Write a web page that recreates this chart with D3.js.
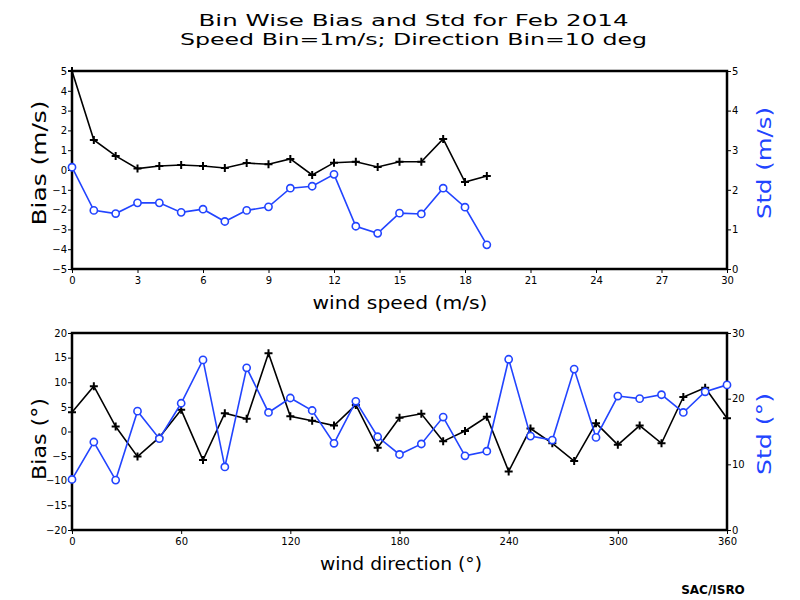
<!DOCTYPE html>
<html><head><meta charset="utf-8">
<script src="https://cdn.jsdelivr.net/npm/d3@7"></script>
<style>body{margin:0;background:#fff}svg{display:block}</style>
</head><body>
<script>
// ---- data ----
const speedBins = [0,1,2,3,4,5,6,7,8,9,10,11,12,13,14,15,16,17,18,19];
const speedBias = [5.0,1.52,0.71,0.07,0.2,0.25,0.2,0.1,0.35,0.29,0.56,-0.25,0.37,0.42,0.15,0.42,0.42,1.57,-0.61,-0.3];
const speedStd  = [2.57,1.48,1.4,1.67,1.67,1.43,1.51,1.2,1.48,1.57,2.04,2.09,2.39,1.08,0.9,1.41,1.39,2.04,1.56,0.61];
const dirBins = [0,12,24,36,48,60,72,84,96,108,120,132,144,156,168,180,192,204,216,228,240,252,264,276,288,300,312,324,336,348,360];
const dirBias = [3.9,9.2,1.0,-5.1,-1.2,4.4,-5.8,3.7,2.6,15.9,3.1,2.2,1.2,5.4,-3.3,2.8,3.6,-2.0,0.1,3.0,-8.1,0.6,-2.4,-6.0,1.7,-2.7,1.2,-2.4,7.0,8.9,2.7];
const dirStd  = [7.7,13.4,7.6,18.1,13.9,19.3,25.9,9.6,24.7,17.9,20.1,18.2,13.2,19.6,14.2,11.5,13.1,17.2,11.3,12.0,26.0,14.3,13.7,24.5,14.1,20.4,20.0,20.6,17.9,21.05,22.1];
const speedTicks = [0,3,6,9,12,15,18,21,24,27,30];
const speedBiasTicks = [-5,-4,-3,-2,-1,0,1,2,3,4,5];
const speedStdTicks = [0,1,2,3,4,5];
const dirTicks = [0,60,120,180,240,300,360];
const dirBiasTicks = [-20,-15,-10,-5,0,5,10,15,20];
const dirStdTicks = [0,10,20,30];

const BLUE = "#2244ff";
const W = 800, H = 600;
const svg = d3.select("body").append("svg").attr("width", W).attr("height", H);
const FONT = "DejaVu Sans, sans-serif";

function label(x, y, txt, size, len, rot, color) {
  const t = svg.append("text")
    .attr("transform", `translate(${x},${y})` + (rot ? " rotate(-90)" : ""))
    .attr("text-anchor","middle").attr("font-family", FONT).attr("font-size", size)
    .attr("fill", color || "#000").text(txt);
  if (len) t.attr("textLength", len).attr("lengthAdjust", "spacingAndGlyphs");
  return t;
}

label(413.5, 26, "Bin Wise Bias and Std for Feb 2014", 16, 430);
label(413.5, 45, "Speed Bin=1m/s; Direction Bin=10 deg", 16, 467);

function panel(cfg) {
  const x = d3.scaleLinear().domain(cfg.xd).range([72, 727]);
  const yl = d3.scaleLinear().domain(cfg.yld).range([cfg.y1, cfg.y0]);
  const yr = d3.scaleLinear().domain(cfg.yrd).range([cfg.y1, cfg.y0]);
  const g = svg.append("g");
  const fmt = d => String(d).replace("-", "\u2212");
  const ax = g.append("g").attr("transform", `translate(0,${cfg.y1})`)
    .call(d3.axisBottom(x).tickValues(cfg.xt).tickSize(4).tickPadding(4).tickFormat(fmt));
  const al = g.append("g").attr("transform", `translate(72,0)`)
    .call(d3.axisLeft(yl).tickValues(cfg.ylt).tickSize(4).tickPadding(1).tickFormat(fmt));
  const ar = g.append("g").attr("transform", `translate(727,0)`)
    .call(d3.axisRight(yr).tickValues(cfg.yrt).tickSize(4).tickPadding(1).tickFormat(fmt));
  [ax, al, ar].forEach(a => {
    a.select(".domain").remove();
    a.selectAll("text").attr("font-family", FONT).attr("font-size", 10).attr("fill","#000");
    a.selectAll("line").attr("stroke","#000").attr("stroke-width",1);
  });
  g.append("rect").attr("x", 72).attr("y", cfg.y0).attr("width", 655).attr("height", cfg.y1 - cfg.y0)
    .attr("fill","none").attr("stroke","#000").attr("stroke-width",2.5);
  const lineB = d3.line().x((d,i)=>x(cfg.bins[i])).y(d=>yl(d));
  const lineS = d3.line().x((d,i)=>x(cfg.bins[i])).y(d=>yr(d));
  g.append("path").datum(cfg.bias).attr("d", lineB).attr("fill","none").attr("stroke","#000").attr("stroke-width",1.6);
  g.selectAll(".cross").data(cfg.bias).enter().append("path")
    .attr("d", (d,i)=>{const cx=x(cfg.bins[i]), cy=yl(d); return `M${cx-4},${cy}H${cx+4}M${cx},${cy-4}V${cy+4}`;})
    .attr("stroke","#000").attr("stroke-width",2).attr("fill","none");
  g.append("path").datum(cfg.std).attr("d", lineS).attr("fill","none").attr("stroke",BLUE).attr("stroke-width",1.6);
  g.selectAll(".circ").data(cfg.std).enter().append("circle")
    .attr("cx",(d,i)=>x(cfg.bins[i])).attr("cy",d=>yr(d)).attr("r",3.6)
    .attr("fill","#fff").attr("stroke",BLUE).attr("stroke-width",1.6);
  label(46, cfg.lcy, cfg.ylab, 19, cfg.llen, true);
  label(771, cfg.rcy, cfg.yrlab, 19, cfg.rlen, true, BLUE);
  label(cfg.xcx, cfg.y1 + 40, cfg.xlab, 18, cfg.xlen);
}

panel({xd:[0,30], yld:[-5,5], yrd:[0,5], y0:71, y1:269, xt:speedTicks, ylt:speedBiasTicks, yrt:speedStdTicks,
  bins:speedBins, bias:speedBias, std:speedStd, ylab:"Bias (m/s)", yrlab:"Std (m/s)", xlab:"wind speed (m/s)",
  lcy:163, llen:125, rcy:163, rlen:112, xcx:400, xlen:175});
panel({xd:[0,360], yld:[-20,20], yrd:[0,30], y0:333, y1:530, xt:dirTicks, ylt:dirBiasTicks, yrt:dirStdTicks,
  bins:dirBins, bias:dirBias, std:dirStd, ylab:"Bias (\u00B0)", yrlab:"Std (\u00B0)", xlab:"wind direction (\u00B0)",
  lcy:439, llen:82, rcy:434, rlen:82, xcx:401, xlen:162});

svg.append("text").attr("x",713).attr("y",594).attr("text-anchor","middle")
  .attr("font-family",FONT).attr("font-size",12).attr("font-weight","bold").text("SAC/ISRO");
</script>
</body></html>
